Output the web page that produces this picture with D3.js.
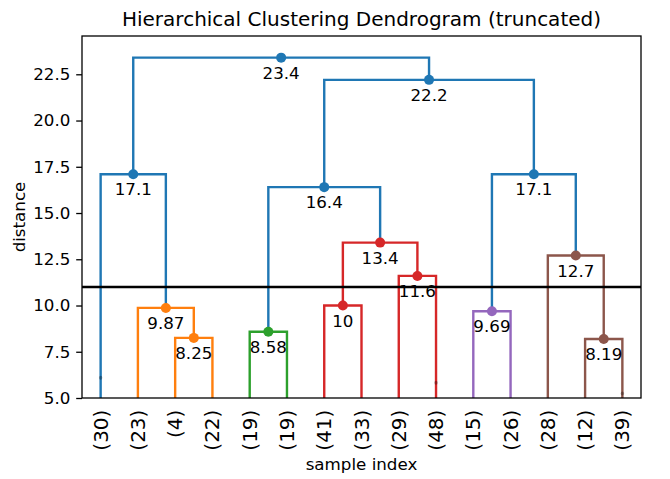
<!DOCTYPE html>
<html>
<head>
<meta charset="utf-8">
<script src="https://cdn.jsdelivr.net/npm/d3@7"></script>
<style>
  body { margin: 0; background: #fff; }
  text { font-family: "DejaVu Sans", sans-serif; fill: #000; }
</style>
</head>
<body>
<svg id="chart" width="670" height="479"></svg>
<script>
// leaf labels (cluster sizes), left to right
const leafLabels = ["(30)", "(23)", "(4)", "(22)", "(19)", "(19)", "(41)", "(33)",
                    "(29)", "(48)", "(15)", "(26)", "(28)", "(12)", "(39)"];

// merges, like a linkage matrix: ids < 15 are leaves, merge k gets id 15 + k
const mergeLeft   = [2, 1, 0, 4, 6, 8, 19, 18, 10, 13, 12, 23, 22, 17];
const mergeRight  = [3, 15, 16, 5, 7, 9, 20, 21, 11, 14, 24, 25, 26, 27];
const mergeHeight = [8.25, 9.87, 17.1, 8.58, 10.0, 11.6, 13.4, 16.4, 9.69, 8.19, 12.7, 17.1, 22.2, 23.4];
const mergeColor  = ["C1", "C1", "C0", "C2", "C3", "C3", "C3", "C0", "C4", "C5", "C5", "C0", "C0", "C0"];

// contracted sub-merges shown as small marks on leaves
const markLeaf   = [0, 9, 14];
const markHeight = [6.1, 5.83, 5.25];

const cutHeight = 11;
const yTicks = [5.0, 7.5, 10.0, 12.5, 15.0, 17.5, 20.0, 22.5];

const palette = {
    C0: "#1f77b4", C1: "#ff7f0e", C2: "#2ca02c",
    C3: "#d62728", C4: "#9467bd", C5: "#8c564b"
};

const svg = d3.select("#chart");
const plotLeft = 82, plotRight = 641, plotTop = 36, plotBottom = 398;

const nLeaves = leafLabels.length;
const maxH = d3.max(mergeHeight);

const x = d3.scaleLinear().domain([0, nLeaves * 10]).range([plotLeft, plotRight]);
const y = d3.scaleLinear().domain([5, maxH * 1.05]).range([plotBottom, plotTop]);

// node positions in data units
const nodeX = leafLabels.map((d, i) => 5 + 10 * i);
const nodeH = leafLabels.map(() => 0);
mergeHeight.forEach((h, k) => {
    nodeX.push((nodeX[mergeLeft[k]] + nodeX[mergeRight[k]]) / 2);
    nodeH.push(h);
});

svg.append("clipPath").attr("id", "clip")
    .append("rect")
    .attr("x", plotLeft).attr("y", plotTop)
    .attr("width", plotRight - plotLeft).attr("height", plotBottom - plotTop);

const plot = svg.append("g").attr("clip-path", "url(#clip)");

// U shaped links
mergeHeight.forEach((h, k) => {
    const a = mergeLeft[k], b = mergeRight[k];
    const pts = [[nodeX[a], nodeH[a]], [nodeX[a], h], [nodeX[b], h], [nodeX[b], nodeH[b]]];
    plot.append("path")
        .attr("d", d3.line().x(d => x(d[0])).y(d => y(d[1]))(pts))
        .style("fill", "none")
        .style("stroke", palette[mergeColor[k]])
        .style("stroke-width", 2.4);
});

// contraction marks
markLeaf.forEach((leaf, i) => {
    plot.append("ellipse")
        .attr("cx", x(nodeX[leaf]))
        .attr("cy", y(markHeight[i]))
        .attr("rx", 1.7)
        .attr("ry", 2)
        .style("fill", "#000")
        .style("opacity", 0.3);
});

// cut line
plot.append("line")
    .attr("x1", plotLeft).attr("x2", plotRight)
    .attr("y1", y(cutHeight)).attr("y2", y(cutHeight))
    .style("stroke", "#000")
    .style("stroke-width", 2.4);

// merge dots and labels
const fmt = d3.format(".3~g");
mergeHeight.forEach((h, k) => {
    const cx = x(nodeX[15 + k]), cy = y(h);
    svg.append("circle")
        .attr("cx", cx).attr("cy", cy).attr("r", 5)
        .style("fill", palette[mergeColor[k]]);
    svg.append("text")
        .attr("x", cx).attr("y", cy + 8.3)
        .attr("dy", "0.76em")
        .style("font-size", "16.7px")
        .style("text-anchor", "middle")
        .text(fmt(h));
});

// frame
svg.append("rect")
    .attr("x", plotLeft).attr("y", plotTop)
    .attr("width", plotRight - plotLeft).attr("height", plotBottom - plotTop)
    .style("fill", "none").style("stroke", "#000").style("stroke-width", 1.3);

// y axis
const yAxis = svg.append("g")
    .attr("transform", `translate(${plotLeft},0)`)
    .call(d3.axisLeft(y).tickValues(yTicks).tickFormat(d3.format(".1f")).tickSize(5.8).tickPadding(5.8));
yAxis.select(".domain").remove();
yAxis.selectAll("line").style("stroke", "#000").style("stroke-width", 1.3);
yAxis.selectAll("text").style("font-size", "16.7px").style("font-family", "DejaVu Sans, sans-serif");

// leaf labels
svg.selectAll(".leaf")
    .data(leafLabels)
    .enter()
    .append("text")
    .attr("class", "leaf")
    .attr("transform", (d, i) => `translate(${x(nodeX[i])},${plotBottom + 11.6}) rotate(-90)`)
    .attr("dy", "0.35em")
    .style("text-anchor", "end")
    .style("font-size", "20px")
    .text(d => d);

// titles
svg.append("text")
    .attr("x", (plotLeft + plotRight) / 2).attr("y", 26)
    .style("text-anchor", "middle")
    .style("font-size", "20px")
    .text("Hierarchical Clustering Dendrogram (truncated)");

svg.append("text")
    .attr("x", (plotLeft + plotRight) / 2).attr("y", 470)
    .style("text-anchor", "middle")
    .style("font-size", "16.7px")
    .text("sample index");

svg.append("text")
    .attr("transform", `translate(25,${(plotTop + plotBottom) / 2}) rotate(-90)`)
    .style("text-anchor", "middle")
    .style("font-size", "16.7px")
    .text("distance");
</script>
</body>
</html>
